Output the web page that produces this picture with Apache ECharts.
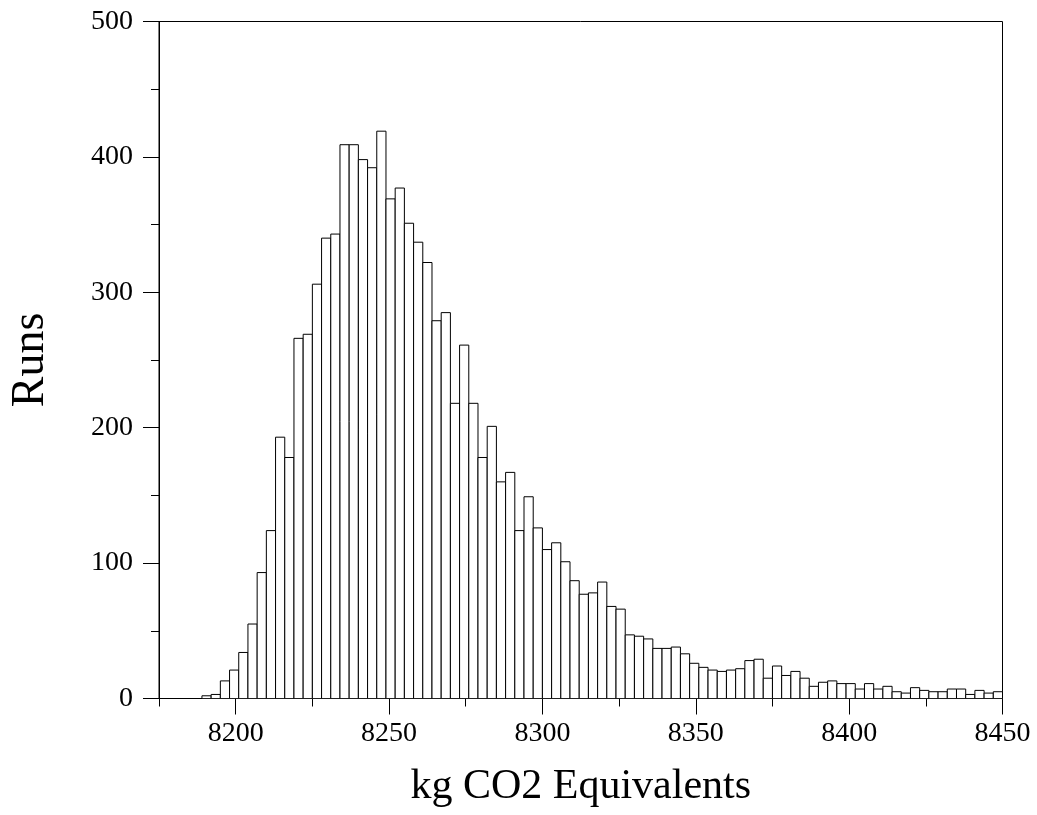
<!DOCTYPE html>
<html>
<head>
<meta charset="utf-8">
<script src="https://cdn.jsdelivr.net/npm/echarts@6/dist/echarts.min.js"></script>
<style>
html,body{margin:0;padding:0;background:#fff;}
#chart{width:1037px;height:815px;}
</style>
</head>
<body>
<div id="chart"></div>
<script>
// Histogram: bins of width 3 starting at 8189
const binStart = 8189;
const binWidth = 3;
const runs = [2,3,13,21,34,55,93,124,193,178,
  266,269,306,340,343,409,409,398,392,419,
  369,377,351,337,322,279,285,218,261,218,
  178,201,160,167,124,149,126,110,115,101,
  87,77,78,86,68,66,47,46,44,37,
  37,38,33,26,23,21,20,21,22,28,
  29,15,24,17,20,15,9,12,13,11,
  11,7,11,7,9,5,4,8,6,5,
  5,7,7,3,6,4,5];
const xMajorTicks = [8200,8250,8300,8350,8400,8450];
const xMinorTicks = [8175,8225,8275,8325,8375,8425];
const yMajorTicks = [0,100,200,300,400,500];
const xTitle = 'kg CO2 Equivalents';
const yTitle = 'Runs';

const font = '"Liberation Serif", "DejaVu Serif", serif';
const data = runs.map((v, i) => [binStart + i * binWidth, binStart + (i + 1) * binWidth, v]);

const chart = echarts.init(document.getElementById('chart'), null, {renderer: 'canvas'});
const gridH = 815 - 21.5 - 116.5;

chart.setOption({
  animation: false,
  backgroundColor: '#fff',
  grid: {left: 156.5, right: 34.5, top: 21.5, bottom: 116.5, containLabel: false,
    show: true, borderColor: '#000', borderWidth: 1, backgroundColor: 'transparent'},
  xAxis: [
    {
      type: 'value', position: 'bottom', min: 8175, max: 8450,
      axisLine: {show: true, onZero: false, lineStyle: {color: '#000', width: 1}},
      axisTick: {show: true, length: 16, customValues: xMajorTicks, lineStyle: {color: '#000', width: 1}},
      axisLabel: {show: true, customValues: xMajorTicks, margin: 21, color: '#000', fontSize: 28, fontFamily: font,
        formatter: function (v) { return String(v); }},
      splitLine: {show: false},
      name: xTitle, nameLocation: 'middle', nameGap: 67,
      nameTextStyle: {color: '#000', fontSize: 42, fontFamily: font}
    },
    {
      type: 'value', position: 'top', offset: -gridH, min: 8175, max: 8450,
      axisLine: {show: false, onZero: false},
      axisTick: {show: true, inside: true, length: 8, customValues: xMinorTicks, lineStyle: {color: '#000', width: 1}},
      axisLabel: {show: false},
      splitLine: {show: false}
    }
  ],
  yAxis: [
    {
      type: 'value', position: 'left', min: 0, max: 500, interval: 100,
      axisLine: {show: true, onZero: false, lineStyle: {color: '#000', width: 1}},
      axisTick: {show: true, length: 16, lineStyle: {color: '#000', width: 1}},
      minorTick: {show: true, splitNumber: 2, length: 8, lineStyle: {color: '#000', width: 1}},
      axisLabel: {show: true, margin: 26, color: '#000', fontSize: 28, fontFamily: font},
      splitLine: {show: false},
      minorSplitLine: {show: false},
      name: yTitle, nameLocation: 'middle', nameGap: 105, nameRotate: 90,
      nameTextStyle: {color: '#000', fontSize: 46, fontFamily: font}
    }
  ],
  series: [{
    type: 'custom',
    xAxisIndex: 0, yAxisIndex: 0,
    clip: true,
    encode: {x: [0, 1], y: 2},
    data: data,
    renderItem: function (params, api) {
      const p0 = api.coord([api.value(0), api.value(2)]);
      const p1 = api.coord([api.value(1), 0]);
      return {
        type: 'rect',
        shape: {x: p0[0], y: p0[1], width: p1[0] - p0[0], height: p1[1] - p0[1]},
        style: {fill: '#fff', stroke: '#000', lineWidth: 1}
      };
    }
  }]
});
</script>
</body>
</html>
